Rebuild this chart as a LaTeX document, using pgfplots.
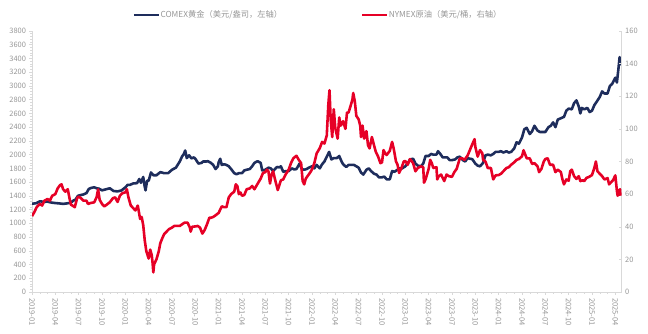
\documentclass[border=0pt]{standalone}
\usepackage{fontspec}
\setmainfont{Noto Sans CJK SC}
\usepackage{pgfplots}
\pgfplotsset{compat=1.18}
\definecolor{gold}{RGB}{30,45,92}
\definecolor{oil}{RGB}{230,0,38}
\definecolor{tk}{RGB}{150,150,150}
\definecolor{axl}{RGB}{217,217,217}
\begin{document}
\begin{tikzpicture}
\useasboundingbox (-32bp,-42bp) rectangle (616bp,292bp);
\pgfplotsset{
  common/.style={
    scale only axis, width=589.7bp, height=261bp,
    xmin=0, xmax=75.82,
    /pgf/number format/assume math mode=true,
    tick label style={font=\fontsize{7.5}{8}\selectfont, text=tk},
    axis line style={axl, line width=0.8pt},
    every tick/.style={axl, line width=0.5pt},
    line join=round,
  }
}
\begin{axis}[common,
  ymin=0, ymax=3800, ytick distance=200,
  axis y line*=left, axis x line*=bottom,
  xtick={0,3,...,75},
  xticklabels={2019-01,2019-04,2019-07,2019-10,2020-01,2020-04,2020-07,2020-10,2021-01,2021-04,2021-07,2021-10,2022-01,2022-04,2022-07,2022-10,2023-01,2023-04,2023-07,2023-10,2024-01,2024-04,2024-07,2024-10,2025-01,2025-04},
  minor x tick num=2,
  minor y tick num=4,
  xticklabel style={rotate=-90, anchor=west, xshift=0bp, font=\fontsize{7.6}{8}\selectfont},
  yticklabel style={/pgf/number format/.cd, 1000 sep={}},
  major tick length=2.5bp, minor tick length=1.5bp,
  tick align=outside,
]
\addplot[gold, line width=2.6pt] coordinates {
(0.0,1285)(0.5,1292)(1.0,1320)(1.5,1314)(2.0,1315)(2.5,1302)(3.0,1295)(3.5,1290)(4.0,1283)(4.5,1290)
(5.0,1300)(5.3,1330)(5.6,1345)(5.9,1400)(6.2,1410)(6.6,1420)(7.0,1440)(7.3,1500)(7.6,1515)(8.0,1525)
(8.3,1510)(8.6,1505)(9.0,1480)(9.5,1495)(10.0,1510)(10.5,1470)(11.0,1465)(11.5,1478)(12.0,1523)
(12.3,1560)(12.6,1560)(13.0,1580)(13.5,1585)(13.8,1645)(14.0,1590)(14.3,1675)(14.5,1530)(14.6,1480)(14.8,1620)
(15.0,1620)(15.3,1740)(15.6,1700)(16.0,1700)(16.5,1745)(17.0,1730)(17.5,1730)(18.0,1780)(18.5,1810)(19.0,1900)
(19.3,1975)(19.5,2005)(19.7,2060)(19.9,1950)(20.2,1990)(20.5,1945)(20.8,1960)(21.0,1940)(21.4,1870)(21.8,1880)
(22.0,1900)(22.4,1900)(22.6,1905)(23.0,1880)(23.3,1850)(23.6,1790)(23.9,1830)(24.0,1890)
(24.2,1940)(24.4,1850)(24.7,1860)(25.0,1850)(25.3,1830)(25.6,1790)(26.0,1730)(26.3,1715)(26.6,1730)(27.0,1730)
(27.3,1770)(27.6,1780)(28.0,1790)(28.3,1830)(28.6,1880)(29.0,1905)(29.4,1880)(29.6,1770)(30.0,1780)(30.4,1810)
(30.7,1800)(31.0,1760)(31.2,1785)(31.5,1820)(31.8,1815)(32.0,1830)(32.3,1750)(32.6,1760)(33.0,1760)(33.4,1800)
(33.7,1785)(34.0,1790)(34.4,1870)(34.7,1790)(35.0,1780)(35.3,1790)(35.6,1810)(36.0,1830)
(36.3,1800)(36.6,1850)(37.0,1800)(37.3,1860)(37.6,1900)(37.9,1970)(38.2,2040)(38.5,1930)(38.8,1950)(39.2,1950)
(39.5,1980)(39.8,1900)(40.0,1860)(40.4,1820)(40.7,1850)(41.0,1850)(41.4,1850)(41.7,1830)(42.0,1810)(42.3,1740)
(42.6,1710)(43.0,1780)(43.3,1800)(43.6,1760)(44.0,1720)(44.3,1710)(44.6,1670)(45.0,1670)(45.3,1680)(45.6,1640)
(46.0,1640)(46.3,1760)(46.6,1750)(47.0,1780)(47.3,1800)(47.6,1800)(48.0,1830)
(48.3,1870)(48.6,1930)(49.0,1940)(49.3,1870)(49.6,1840)(50.0,1830)(50.3,1870)(50.6,1980)(51.0,1980)(51.3,2010)
(51.6,2000)(52.0,2000)(52.2,2050)(52.5,2010)(52.8,1960)(53.0,1960)(53.4,1960)(53.7,1920)(54.0,1920)(54.4,1930)
(54.7,1960)(55.0,1970)(55.4,1920)(55.7,1900)(56.0,1950)(56.3,1940)(56.6,1935)(57.0,1870)(57.3,1840)(57.6,1830)
(58.0,1880)(58.3,1990)(58.6,2000)(59.0,1990)(59.3,2010)(59.6,2040)(60.0,2040)
(60.3,2050)(60.6,2030)(61.0,2050)(61.3,2030)(61.6,2040)(62.0,2090)(62.3,2180)(62.6,2160)(63.0,2250)(63.3,2370)
(63.6,2390)(64.0,2300)(64.3,2340)(64.6,2420)(65.0,2350)(65.3,2330)(65.6,2330)(66.0,2330)(66.4,2400)(66.7,2420)
(67.0,2470)(67.3,2400)(67.6,2510)(68.0,2530)(68.4,2550)(68.7,2640)(69.0,2670)(69.4,2660)(69.7,2750)(70.0,2790)
(70.3,2700)(70.5,2600)(70.7,2680)(71.0,2660)(71.4,2680)(71.7,2620)(72.0,2640)
(72.3,2720)(72.6,2770)(73.0,2840)(73.3,2920)(73.6,2890)(74.0,2890)(74.3,3000)(74.6,3030)(75.0,3120)(75.2,3050)
(75.4,3250)(75.55,3420)(75.65,3300)
};
\end{axis}
\begin{axis}[common,
  ymin=0, ymax=160, ytick distance=20,
  axis y line*=right, axis x line=none,
  major tick length=2.5bp, tick align=inside,
  legend columns=2,
  legend style={draw=none, fill=none, at={(0.165,1.061)}, anchor=west,
    font=\fontsize{8.3}{9}\selectfont, text=tk,
    nodes={inner sep=0.5bp},
    /tikz/every even column/.append style={column sep=78bp}},
  legend image code/.code={\draw[#1] (0bp,0bp) -- (25bp,0bp);},
]
\addlegendimage{gold, line width=2.6pt}
\addlegendentry{COMEX黄金（美元/盎司，左轴）}
\addplot[oil, line width=2.6pt] coordinates {
(0.0,46.5)(0.3,49)(0.6,52)(1.0,54)(1.3,53)(1.6,56)(2.0,57)(2.3,56)(2.6,59)(3.0,60)
(3.3,63.5)(3.6,65.5)(3.8,66)(4.0,63)(4.3,61.5)(4.6,63)(4.8,58)(5.0,53.5)(5.2,53)(5.5,52)
(5.8,57.5)(6.0,58.5)(6.3,57.5)(6.6,56)(7.0,56)(7.2,54)(7.5,54.5)(8.0,55)(8.3,58)(8.5,62.9)
(8.7,56.5)(9.0,54)(9.3,52.5)(9.6,53.5)(10.0,55)(10.4,57.5)(10.7,58)(11.0,55.2)(11.3,59)(11.6,60.5)(12.0,61.1)
(12.2,63)(12.4,58)(12.7,53)(13.0,51.5)(13.3,50)(13.6,53)(13.9,44.8)(14.1,46)(14.3,41)(14.5,31.5)
(14.7,25)(14.9,22)(15.0,20.5)(15.2,26)(15.4,22.5)(15.5,18)(15.6,12)(15.7,17)(15.9,19)(16.0,20)
(16.3,25)(16.5,30)(16.8,33.5)(17.0,35.5)(17.3,37)(17.6,38.5)(18.0,39.5)(18.3,40.5)(18.6,40.5)(19.0,40.5)
(19.3,41.5)(19.6,42.5)(20.0,42.5)(20.3,39.5)(20.4,37)(20.6,40)(21.0,40.2)(21.3,40.5)(21.6,39.5)(21.9,35.8)
(22.2,38)(22.5,41.5)(22.8,45.5)(23.0,45.5)(23.3,46)(23.6,47)(24.0,48.5)
(24.2,50.5)(24.4,52.5)(24.7,52)(25.0,52)(25.3,58)(25.6,60)(26.0,61.5)(26.2,66)(26.4,65)(26.6,60)
(26.8,61)(27.0,59)(27.3,59.5)(27.6,63)(28.0,63.5)(28.3,65)(28.6,63)(29.0,66.3)(29.4,69.5)(29.7,73)
(30.0,73.5)(30.2,75)(30.4,74)(30.6,66.5)(30.8,72)(31.0,74)(31.3,68)(31.6,62.5)(32.0,68.5)(32.3,69)
(32.6,72)(33.0,75)(33.3,79)(33.6,82)(34.0,83.5)(34.3,81)(34.6,79)(34.8,68)(35.0,66)(35.2,69.5)
(35.5,71.5)(35.8,73.5)(36.0,75.2)
(36.3,79)(36.6,85)(37.0,88.2)(37.3,92)(37.6,91)(37.9,96)(38.1,115)(38.25,123.7)(38.4,106)(38.6,95)
(38.8,112)(39.0,100.3)(39.3,94)(39.5,107)(39.7,102)(40.0,104.7)(40.3,100)(40.5,110)(40.7,110)(41.0,114.7)
(41.2,118)(41.3,122)(41.5,117)(41.7,108)(42.0,105.8)(42.2,102)(42.3,95)(42.5,102)(42.7,94)(43.0,98.6)
(43.2,90)(43.4,88)(43.7,95)(44.0,89.5)(44.2,86)(44.5,83)(44.8,79)(45.0,79.5)(45.2,87)(45.4,85)
(45.6,84)(46.0,86.5)(46.3,92)(46.5,88)(46.8,80)(47.0,78)(47.2,73)(47.5,76)(47.8,80)(48.0,80.3)
(48.3,78)(48.6,81.5)(49.0,79)(49.3,74)(49.6,76)(50.0,77)(50.3,76.5)(50.4,67)(50.6,69)(51.0,75.5)
(51.2,81)(51.4,79)(51.6,76)(52.0,76.5)(52.1,69)(52.3,71)(52.6,72)(53.0,68)(53.3,72)(53.6,71)
(54.0,70.6)(54.3,73.5)(54.6,75.5)(55.0,81.8)(55.3,82)(55.6,81)(56.0,83.6)(56.3,87)(56.6,90.5)(56.9,93.7)
(57.0,89)(57.3,83)(57.6,87)(57.9,85)(58.0,81)(58.3,80)(58.6,76)(59.0,76)(59.3,69)(59.6,71.5)(60.0,71.7)
(60.3,72.5)(60.6,74)(61.0,76)(61.3,76.5)(61.6,78)(62.0,79.5)(62.3,81)(62.6,81.5)(63.0,83.2)(63.2,86.9)
(63.6,82)(64.0,81.9)(64.3,78.5)(64.6,79)(65.0,77)(65.2,73.5)(65.5,75.5)(65.8,80)(66.0,81.5)(66.3,82)
(66.6,78)(67.0,78)(67.3,73.5)(67.6,75)(68.0,73.5)(68.2,69)(68.4,66)(68.7,69)(69.0,68.2)(69.2,74)
(69.4,75)(69.7,71)(70.0,69.3)(70.3,71)(70.5,68)(70.8,68.5)(71.0,68)(71.3,70)(71.6,70.5)(72.0,71.7)
(72.3,76)(72.5,80)(72.7,74)(73.0,72.5)(73.3,71)(73.6,69)(74.0,69.8)(74.2,66)(74.4,67)(74.7,68.5)
(75.0,71.5)(75.2,62)(75.3,59)(75.45,62)(75.6,63)(75.65,59)
};
\addlegendentry{NYMEX原油（美元/桶，右轴）}
\end{axis}
\end{tikzpicture}
\end{document}
